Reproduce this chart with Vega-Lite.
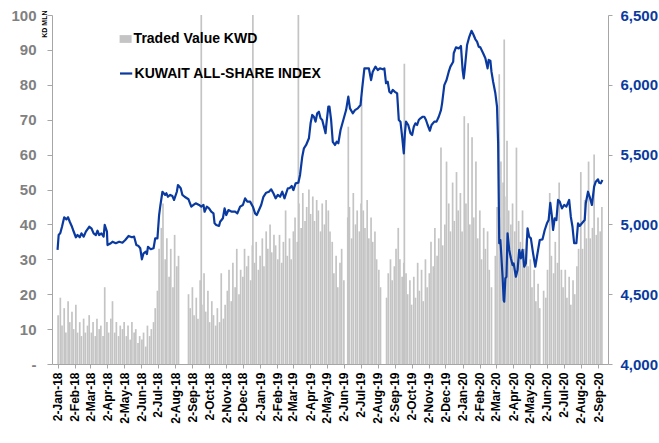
{
 "$schema": "https://vega.github.io/schema/vega-lite/v6.json",
 "width": 556,
 "height": 349,
 "autosize": {"type": "none"},
 "padding": {"left": 52, "top": 15, "right": 51, "bottom": 79},
 "background": "white",
 "config": {"view": {"stroke": null}, "font": "Liberation Sans"},
 "datasets": {
  "bars": [
   {"d":"2018-01-03","v":14},{"d":"2018-01-07","v":19},{"d":"2018-01-10","v":11},{"d":"2018-01-14","v":16},{"d":"2018-01-17","v":9},{"d":"2018-01-21","v":18},{"d":"2018-01-24","v":12},{"d":"2018-01-28","v":15},{"d":"2018-01-31","v":10},
   {"d":"2018-02-04","v":17},{"d":"2018-02-07","v":9},{"d":"2018-02-11","v":12},{"d":"2018-02-14","v":8},{"d":"2018-02-18","v":13},{"d":"2018-02-21","v":9},{"d":"2018-02-25","v":11},{"d":"2018-02-28","v":14},
   {"d":"2018-03-04","v":9},{"d":"2018-03-07","v":12},{"d":"2018-03-11","v":8},{"d":"2018-03-14","v":13},{"d":"2018-03-18","v":10},{"d":"2018-03-21","v":11},{"d":"2018-03-25","v":8},{"d":"2018-03-28","v":22},
   {"d":"2018-04-01","v":12},{"d":"2018-04-04","v":9},{"d":"2018-04-08","v":13},{"d":"2018-04-11","v":18},{"d":"2018-04-15","v":9},{"d":"2018-04-18","v":12},{"d":"2018-04-22","v":8},{"d":"2018-04-25","v":11},{"d":"2018-04-29","v":10},
   {"d":"2018-05-02","v":12},{"d":"2018-05-06","v":8},{"d":"2018-05-09","v":11},{"d":"2018-05-13","v":7},{"d":"2018-05-16","v":12},{"d":"2018-05-20","v":9},{"d":"2018-05-23","v":10},{"d":"2018-05-27","v":6},{"d":"2018-05-30","v":8},
   {"d":"2018-06-03","v":7},{"d":"2018-06-06","v":9},{"d":"2018-06-10","v":5},{"d":"2018-06-13","v":11},{"d":"2018-06-17","v":8},{"d":"2018-06-20","v":10},{"d":"2018-06-24","v":12},{"d":"2018-06-27","v":16},
   {"d":"2018-07-01","v":21},{"d":"2018-07-04","v":33},{"d":"2018-07-08","v":39},{"d":"2018-07-11","v":46},{"d":"2018-07-15","v":30},{"d":"2018-07-18","v":36},{"d":"2018-07-22","v":25},{"d":"2018-07-25","v":33},{"d":"2018-07-29","v":22},
   {"d":"2018-08-01","v":37},{"d":"2018-08-05","v":28},{"d":"2018-08-08","v":31},{"d":"2018-08-26","v":20},{"d":"2018-08-29","v":16},
   {"d":"2018-09-02","v":22},{"d":"2018-09-05","v":14},{"d":"2018-09-09","v":19},{"d":"2018-09-12","v":13},{"d":"2018-09-16","v":24},{"d":"2018-09-18","v":105},{"d":"2018-09-19","v":17},{"d":"2018-09-23","v":26},{"d":"2018-09-26","v":15},{"d":"2018-09-30","v":21},
   {"d":"2018-10-03","v":12},{"d":"2018-10-07","v":18},{"d":"2018-10-10","v":14},{"d":"2018-10-14","v":11},{"d":"2018-10-17","v":16},{"d":"2018-10-21","v":12},{"d":"2018-10-24","v":26},{"d":"2018-10-28","v":13},{"d":"2018-10-31","v":17},
   {"d":"2018-11-04","v":21},{"d":"2018-11-07","v":27},{"d":"2018-11-11","v":18},{"d":"2018-11-14","v":29},{"d":"2018-11-18","v":22},{"d":"2018-11-21","v":33},{"d":"2018-11-25","v":20},{"d":"2018-11-28","v":27},
   {"d":"2018-12-02","v":25},{"d":"2018-12-05","v":33},{"d":"2018-12-09","v":28},{"d":"2018-12-12","v":31},{"d":"2018-12-16","v":24},{"d":"2018-12-19","v":34},{"d":"2018-12-20","v":108},{"d":"2018-12-23","v":29},{"d":"2018-12-26","v":35},{"d":"2018-12-30","v":27},
   {"d":"2019-01-02","v":31},{"d":"2019-01-06","v":36},{"d":"2019-01-09","v":28},{"d":"2019-01-13","v":38},{"d":"2019-01-16","v":33},{"d":"2019-01-20","v":40},{"d":"2019-01-23","v":32},{"d":"2019-01-27","v":37},{"d":"2019-01-30","v":34},
   {"d":"2019-02-03","v":30},{"d":"2019-02-06","v":37},{"d":"2019-02-10","v":29},{"d":"2019-02-13","v":35},{"d":"2019-02-17","v":44},{"d":"2019-02-20","v":31},{"d":"2019-02-24","v":36},{"d":"2019-02-27","v":30},
   {"d":"2019-03-03","v":38},{"d":"2019-03-06","v":42},{"d":"2019-03-10","v":35},{"d":"2019-03-12","v":110},{"d":"2019-03-13","v":46},{"d":"2019-03-17","v":39},{"d":"2019-03-20","v":49},{"d":"2019-03-24","v":41},{"d":"2019-03-27","v":45},{"d":"2019-03-31","v":50},
   {"d":"2019-04-03","v":43},{"d":"2019-04-07","v":48},{"d":"2019-04-10","v":41},{"d":"2019-04-14","v":47},{"d":"2019-04-17","v":44},{"d":"2019-04-21","v":38},{"d":"2019-04-24","v":46},{"d":"2019-04-28","v":40},
   {"d":"2019-05-01","v":47},{"d":"2019-05-05","v":44},{"d":"2019-05-08","v":38},{"d":"2019-05-12","v":35},{"d":"2019-05-15","v":26},{"d":"2019-05-19","v":31},{"d":"2019-05-22","v":22},{"d":"2019-05-26","v":29},{"d":"2019-05-29","v":33},
   {"d":"2019-06-02","v":24},{"d":"2019-06-09","v":42},{"d":"2019-06-10","v":68},{"d":"2019-06-12","v":45},{"d":"2019-06-16","v":36},{"d":"2019-06-19","v":49},{"d":"2019-06-23","v":40},{"d":"2019-06-26","v":44},{"d":"2019-06-30","v":38},
   {"d":"2019-07-03","v":46},{"d":"2019-07-04","v":76},{"d":"2019-07-07","v":44},{"d":"2019-07-10","v":39},{"d":"2019-07-14","v":47},{"d":"2019-07-17","v":36},{"d":"2019-07-21","v":42},{"d":"2019-07-24","v":35},{"d":"2019-07-28","v":38},{"d":"2019-07-31","v":30},
   {"d":"2019-08-04","v":27},{"d":"2019-08-07","v":22},{"d":"2019-08-18","v":19},{"d":"2019-08-21","v":26},{"d":"2019-08-25","v":30},{"d":"2019-08-28","v":24},
   {"d":"2019-09-01","v":28},{"d":"2019-09-04","v":33},{"d":"2019-09-08","v":39},{"d":"2019-09-11","v":30},{"d":"2019-09-15","v":25},{"d":"2019-09-18","v":29},{"d":"2019-09-19","v":86},{"d":"2019-09-22","v":26},{"d":"2019-09-25","v":20},{"d":"2019-09-29","v":24},
   {"d":"2019-10-02","v":17},{"d":"2019-10-06","v":25},{"d":"2019-10-09","v":19},{"d":"2019-10-13","v":29},{"d":"2019-10-16","v":21},{"d":"2019-10-20","v":27},{"d":"2019-10-23","v":18},{"d":"2019-10-27","v":30},{"d":"2019-10-30","v":22},
   {"d":"2019-11-03","v":26},{"d":"2019-11-06","v":35},{"d":"2019-11-10","v":28},{"d":"2019-11-13","v":39},{"d":"2019-11-17","v":31},{"d":"2019-11-20","v":36},{"d":"2019-11-24","v":62},{"d":"2019-11-27","v":34},
   {"d":"2019-12-01","v":40},{"d":"2019-12-04","v":58},{"d":"2019-12-08","v":46},{"d":"2019-12-11","v":38},{"d":"2019-12-15","v":52},{"d":"2019-12-18","v":41},{"d":"2019-12-22","v":55},{"d":"2019-12-25","v":44},{"d":"2019-12-29","v":49},
   {"d":"2020-01-01","v":38},{"d":"2020-01-05","v":71},{"d":"2020-01-08","v":46},{"d":"2020-01-12","v":69},{"d":"2020-01-15","v":40},{"d":"2020-01-19","v":65},{"d":"2020-01-22","v":42},{"d":"2020-01-26","v":58},{"d":"2020-01-29","v":36},
   {"d":"2020-02-02","v":44},{"d":"2020-02-05","v":30},{"d":"2020-02-09","v":39},{"d":"2020-02-12","v":33},{"d":"2020-02-16","v":38},{"d":"2020-02-19","v":27},{"d":"2020-02-23","v":22},
   {"d":"2020-03-01","v":31},{"d":"2020-03-04","v":45},{"d":"2020-03-08","v":83},{"d":"2020-03-11","v":58},{"d":"2020-03-15","v":52},{"d":"2020-03-17","v":93},{"d":"2020-03-18","v":48},{"d":"2020-03-22","v":64},{"d":"2020-03-25","v":44},{"d":"2020-03-29","v":40},
   {"d":"2020-04-01","v":46},{"d":"2020-04-05","v":38},{"d":"2020-04-08","v":62},{"d":"2020-04-12","v":41},{"d":"2020-04-15","v":35},{"d":"2020-04-19","v":44},{"d":"2020-04-22","v":33},{"d":"2020-04-26","v":36},{"d":"2020-04-29","v":28},
   {"d":"2020-05-03","v":30},{"d":"2020-05-06","v":22},{"d":"2020-05-10","v":27},{"d":"2020-05-13","v":18},{"d":"2020-05-17","v":23},{"d":"2020-05-20","v":16},{"d":"2020-05-27","v":21},{"d":"2020-05-31","v":19},
   {"d":"2020-06-03","v":27},{"d":"2020-06-07","v":49},{"d":"2020-06-10","v":31},{"d":"2020-06-14","v":26},{"d":"2020-06-17","v":35},{"d":"2020-06-21","v":29},{"d":"2020-06-24","v":52},{"d":"2020-06-28","v":27},
   {"d":"2020-07-01","v":22},{"d":"2020-07-05","v":27},{"d":"2020-07-08","v":19},{"d":"2020-07-12","v":25},{"d":"2020-07-15","v":17},{"d":"2020-07-19","v":24},{"d":"2020-07-22","v":20},{"d":"2020-07-26","v":28},{"d":"2020-07-29","v":33},
   {"d":"2020-08-02","v":55},{"d":"2020-08-05","v":33},{"d":"2020-08-09","v":47},{"d":"2020-08-12","v":36},{"d":"2020-08-16","v":58},{"d":"2020-08-19","v":36},{"d":"2020-08-23","v":39},{"d":"2020-08-26","v":60},{"d":"2020-08-30","v":37},
   {"d":"2020-09-02","v":42},{"d":"2020-09-06","v":38},{"d":"2020-09-09","v":45}
  ],
  "idx": [
   {"d":"2018-01-02","i":4817},{"d":"2018-01-04","i":4924},{"d":"2018-01-07","i":4938},{"d":"2018-01-10","i":4983},{"d":"2018-01-14","i":5051},{"d":"2018-01-18","i":5036},{"d":"2018-01-21","i":5051},{"d":"2018-01-24","i":5019},{"d":"2018-01-28","i":4983},{"d":"2018-01-30","i":4960},
   {"d":"2018-02-04","i":4908},{"d":"2018-02-07","i":4924},{"d":"2018-02-11","i":4908},{"d":"2018-02-14","i":4936},{"d":"2018-02-18","i":4912},{"d":"2018-02-22","i":4948},{"d":"2018-02-28","i":4983},
   {"d":"2018-03-04","i":4972},{"d":"2018-03-08","i":4936},{"d":"2018-03-12","i":4924},{"d":"2018-03-15","i":4955},{"d":"2018-03-18","i":4924},{"d":"2018-03-22","i":4936},{"d":"2018-03-26","i":4912},{"d":"2018-03-28","i":4996},
   {"d":"2018-04-01","i":4948},{"d":"2018-04-02","i":4852},{"d":"2018-04-08","i":4865},{"d":"2018-04-11","i":4876},{"d":"2018-04-17","i":4865},{"d":"2018-04-23","i":4876},{"d":"2018-04-29","i":4869},
   {"d":"2018-05-04","i":4888},{"d":"2018-05-10","i":4917},{"d":"2018-05-16","i":4908},{"d":"2018-05-20","i":4912},{"d":"2018-05-24","i":4852},{"d":"2018-05-28","i":4845},{"d":"2018-05-31","i":4829},
   {"d":"2018-06-03","i":4750},{"d":"2018-06-06","i":4793},{"d":"2018-06-10","i":4804},{"d":"2018-06-12","i":4788},{"d":"2018-06-14","i":4840},{"d":"2018-06-19","i":4822},{"d":"2018-06-24","i":4829},{"d":"2018-06-27","i":4900},
   {"d":"2018-07-01","i":4900},{"d":"2018-07-04","i":5067},{"d":"2018-07-06","i":5127},{"d":"2018-07-10","i":5234},{"d":"2018-07-15","i":5211},{"d":"2018-07-17","i":5223},{"d":"2018-07-20","i":5198},{"d":"2018-07-24","i":5211},{"d":"2018-07-28","i":5203},{"d":"2018-07-31","i":5175},
   {"d":"2018-08-05","i":5234},{"d":"2018-08-07","i":5282},{"d":"2018-08-12","i":5259},{"d":"2018-08-15","i":5211},{"d":"2018-08-19","i":5198},{"d":"2018-08-26","i":5180},{"d":"2018-08-31","i":5127},
   {"d":"2018-09-04","i":5139},{"d":"2018-09-08","i":5151},{"d":"2018-09-14","i":5139},{"d":"2018-09-18","i":5127},{"d":"2018-09-22","i":5139},{"d":"2018-09-24","i":5091},{"d":"2018-09-28","i":5127},
   {"d":"2018-10-02","i":5115},{"d":"2018-10-06","i":5091},{"d":"2018-10-10","i":5079},{"d":"2018-10-12","i":5008},{"d":"2018-10-15","i":4996},{"d":"2018-10-20","i":4989},{"d":"2018-10-22","i":5019},{"d":"2018-10-27","i":5044},{"d":"2018-10-30","i":5115},
   {"d":"2018-11-02","i":5067},{"d":"2018-11-06","i":5103},{"d":"2018-11-12","i":5091},{"d":"2018-11-18","i":5091},{"d":"2018-11-22","i":5079},{"d":"2018-11-27","i":5127},
   {"d":"2018-12-02","i":5139},{"d":"2018-12-06","i":5187},{"d":"2018-12-10","i":5163},{"d":"2018-12-15","i":5163},{"d":"2018-12-20","i":5127},{"d":"2018-12-24","i":5079},{"d":"2018-12-27","i":5067},{"d":"2018-12-31","i":5103},
   {"d":"2019-01-04","i":5139},{"d":"2019-01-08","i":5198},{"d":"2019-01-13","i":5227},{"d":"2019-01-18","i":5234},{"d":"2019-01-22","i":5251},{"d":"2019-01-26","i":5223},{"d":"2019-01-30","i":5187},
   {"d":"2019-02-03","i":5211},{"d":"2019-02-07","i":5198},{"d":"2019-02-11","i":5234},{"d":"2019-02-15","i":5187},{"d":"2019-02-18","i":5223},{"d":"2019-02-21","i":5259},{"d":"2019-02-24","i":5259},{"d":"2019-02-28","i":5275},
   {"d":"2019-03-03","i":5246},{"d":"2019-03-07","i":5294},{"d":"2019-03-12","i":5299},{"d":"2019-03-15","i":5354},{"d":"2019-03-19","i":5485},{"d":"2019-03-22","i":5545},{"d":"2019-03-26","i":5569},{"d":"2019-03-31","i":5617},
   {"d":"2019-04-03","i":5724},{"d":"2019-04-06","i":5784},{"d":"2019-04-09","i":5771},{"d":"2019-04-12","i":5736},{"d":"2019-04-15","i":5796},{"d":"2019-04-18","i":5807},{"d":"2019-04-21","i":5760},{"d":"2019-04-24","i":5748},{"d":"2019-04-30","i":5653},
   {"d":"2019-05-01","i":5700},{"d":"2019-05-05","i":5843},{"d":"2019-05-07","i":5843},{"d":"2019-05-10","i":5748},{"d":"2019-05-13","i":5592},{"d":"2019-05-17","i":5569},{"d":"2019-05-20","i":5592},{"d":"2019-05-23","i":5581},{"d":"2019-05-27","i":5676},
   {"d":"2019-06-01","i":5748},{"d":"2019-06-06","i":5819},{"d":"2019-06-10","i":5915},{"d":"2019-06-13","i":5831},{"d":"2019-06-18","i":5796},{"d":"2019-06-22","i":5819},{"d":"2019-06-27","i":5831},
   {"d":"2019-07-02","i":5855},{"d":"2019-07-05","i":5975},{"d":"2019-07-09","i":6118},{"d":"2019-07-13","i":6118},{"d":"2019-07-17","i":6118},{"d":"2019-07-21","i":6034},{"d":"2019-07-24","i":6094},{"d":"2019-07-29","i":6130},
   {"d":"2019-08-02","i":6106},{"d":"2019-08-06","i":6118},{"d":"2019-08-11","i":6111},{"d":"2019-08-14","i":6118},{"d":"2019-08-17","i":6011},{"d":"2019-08-20","i":6022},{"d":"2019-08-23","i":5950},{"d":"2019-08-26","i":5939},{"d":"2019-08-29","i":5963},
   {"d":"2019-09-02","i":5950},{"d":"2019-09-06","i":5939},{"d":"2019-09-09","i":5748},{"d":"2019-09-12","i":5736},{"d":"2019-09-15","i":5628},{"d":"2019-09-18","i":5509},{"d":"2019-09-20","i":5653},{"d":"2019-09-22","i":5736},{"d":"2019-09-26","i":5712},{"d":"2019-09-30","i":5653},
   {"d":"2019-10-03","i":5640},{"d":"2019-10-06","i":5700},{"d":"2019-10-09","i":5724},{"d":"2019-10-12","i":5712},{"d":"2019-10-15","i":5748},{"d":"2019-10-18","i":5760},{"d":"2019-10-22","i":5771},{"d":"2019-10-25","i":5771},{"d":"2019-10-28","i":5748},{"d":"2019-10-31","i":5712},
   {"d":"2019-11-04","i":5671},{"d":"2019-11-07","i":5712},{"d":"2019-11-12","i":5736},{"d":"2019-11-16","i":5736},{"d":"2019-11-20","i":5771},{"d":"2019-11-24","i":5819},{"d":"2019-11-26","i":5867},{"d":"2019-11-30","i":5998},
   {"d":"2019-12-04","i":6034},{"d":"2019-12-08","i":6094},{"d":"2019-12-11","i":6130},{"d":"2019-12-16","i":6165},{"d":"2019-12-17","i":6226},{"d":"2019-12-21","i":6268},{"d":"2019-12-26","i":6261},{"d":"2019-12-29","i":6273},{"d":"2019-12-30","i":6278},
   {"d":"2020-01-02","i":6106},{"d":"2020-01-04","i":6046},{"d":"2020-01-06","i":6118},{"d":"2020-01-10","i":6285},{"d":"2020-01-14","i":6344},{"d":"2020-01-18","i":6387},{"d":"2020-01-21","i":6364},{"d":"2020-01-25","i":6326},{"d":"2020-01-28","i":6309},{"d":"2020-01-31","i":6273},
   {"d":"2020-02-03","i":6268},{"d":"2020-02-08","i":6226},{"d":"2020-02-12","i":6190},{"d":"2020-02-16","i":6118},{"d":"2020-02-18","i":6178},{"d":"2020-02-21","i":6173},{"d":"2020-02-23","i":6094},{"d":"2020-02-26","i":6022},
   {"d":"2020-03-01","i":5939},{"d":"2020-03-04","i":5843},{"d":"2020-03-06","i":5581},{"d":"2020-03-07","i":5223},{"d":"2020-03-08","i":4865},{"d":"2020-03-10","i":4888},{"d":"2020-03-11","i":4829},{"d":"2020-03-14","i":4625},{"d":"2020-03-16","i":4458},{"d":"2020-03-17","i":4446},{"d":"2020-03-19","i":4614},{"d":"2020-03-21","i":4625},{"d":"2020-03-23","i":4936},{"d":"2020-03-26","i":4817},{"d":"2020-03-29","i":4757},
   {"d":"2020-04-01","i":4709},{"d":"2020-04-03","i":4721},{"d":"2020-04-07","i":4625},{"d":"2020-04-10","i":4673},{"d":"2020-04-13","i":4817},{"d":"2020-04-16","i":4757},{"d":"2020-04-19","i":4817},{"d":"2020-04-22","i":4697},{"d":"2020-04-25","i":4721},{"d":"2020-04-28","i":4972},
   {"d":"2020-05-01","i":4912},{"d":"2020-05-04","i":4900},{"d":"2020-05-08","i":4793},{"d":"2020-05-12","i":4697},{"d":"2020-05-16","i":4793},{"d":"2020-05-20","i":4888},{"d":"2020-05-25","i":4893},{"d":"2020-05-29","i":4960},
   {"d":"2020-06-02","i":5008},{"d":"2020-06-05","i":5031},{"d":"2020-06-08","i":5155},{"d":"2020-06-11","i":5055},{"d":"2020-06-13","i":4960},{"d":"2020-06-16","i":5044},{"d":"2020-06-19","i":5031},{"d":"2020-06-22","i":5175},{"d":"2020-06-25","i":5163},{"d":"2020-06-29","i":5115},
   {"d":"2020-07-03","i":5139},{"d":"2020-07-07","i":5127},{"d":"2020-07-12","i":5175},{"d":"2020-07-15","i":5055},{"d":"2020-07-18","i":4983},{"d":"2020-07-21","i":4865},{"d":"2020-07-25","i":4865},{"d":"2020-07-28","i":5008},{"d":"2020-07-31","i":4989},
   {"d":"2020-08-04","i":5008},{"d":"2020-08-09","i":5031},{"d":"2020-08-11","i":5151},{"d":"2020-08-15","i":5234},{"d":"2020-08-18","i":5198},{"d":"2020-08-22","i":5139},{"d":"2020-08-26","i":5270},{"d":"2020-08-29","i":5306},
   {"d":"2020-09-02","i":5323},{"d":"2020-09-04","i":5299},{"d":"2020-09-07","i":5294},{"d":"2020-09-10","i":5318}
  ]
 },
 "encoding": {
  "x": {
   "field": "d",
   "type": "temporal",
   "scale": {"type": "utc", "domain": [{"year": 2018, "month": 1, "date": 1, "utc": true}, {"year": 2020, "month": 9, "date": 11, "utc": true}]},
   "axis": {
    "values": [
     {"year":2018,"month":1,"date":2,"utc":true},{"year":2018,"month":2,"date":2,"utc":true},{"year":2018,"month":3,"date":2,"utc":true},{"year":2018,"month":4,"date":2,"utc":true},{"year":2018,"month":5,"date":2,"utc":true},{"year":2018,"month":6,"date":2,"utc":true},{"year":2018,"month":7,"date":2,"utc":true},{"year":2018,"month":8,"date":2,"utc":true},{"year":2018,"month":9,"date":2,"utc":true},{"year":2018,"month":10,"date":2,"utc":true},{"year":2018,"month":11,"date":2,"utc":true},{"year":2018,"month":12,"date":2,"utc":true},
     {"year":2019,"month":1,"date":2,"utc":true},{"year":2019,"month":2,"date":2,"utc":true},{"year":2019,"month":3,"date":2,"utc":true},{"year":2019,"month":4,"date":2,"utc":true},{"year":2019,"month":5,"date":2,"utc":true},{"year":2019,"month":6,"date":2,"utc":true},{"year":2019,"month":7,"date":2,"utc":true},{"year":2019,"month":8,"date":2,"utc":true},{"year":2019,"month":9,"date":2,"utc":true},{"year":2019,"month":10,"date":2,"utc":true},{"year":2019,"month":11,"date":2,"utc":true},{"year":2019,"month":12,"date":2,"utc":true},
     {"year":2020,"month":1,"date":2,"utc":true},{"year":2020,"month":2,"date":2,"utc":true},{"year":2020,"month":3,"date":2,"utc":true},{"year":2020,"month":4,"date":2,"utc":true},{"year":2020,"month":5,"date":2,"utc":true},{"year":2020,"month":6,"date":2,"utc":true},{"year":2020,"month":7,"date":2,"utc":true},{"year":2020,"month":8,"date":2,"utc":true},{"year":2020,"month":9,"date":2,"utc":true}
    ],
    "format": "%-d-%b-%y",
    "labelAngle": -90,
    "labelAlign": "right",
    "labelBaseline": "middle",
    "labelFont": "Liberation Sans",
    "labelFontWeight": "bold",
    "labelFontSize": 12,
    "labelColor": "#000000",
    "labelPadding": 4,
    "labelOverlap": false,
    "labelFlush": false,
    "labelBound": false,
    "tickSize": 4,
    "tickColor": "#A6A6A6",
    "domainColor": "#A6A6A6",
    "grid": false,
    "title": null
   }
  }
 },
 "layer": [
  {
   "data": {"name": "bars"},
   "mark": {"type": "bar", "width": 1.7, "clip": true},
   "encoding": {
    "y": {
     "field": "v",
     "type": "quantitative",
     "scale": {"domain": [0, 100], "nice": false, "zero": true},
     "axis": {
      "orient": "left",
      "values": [0, 10, 20, 30, 40, 50, 60, 70, 80, 90, 100],
      "labelExpr": "datum.value == 0 ? '-\u00a0\u00a0' : datum.label",
      "labelFont": "Liberation Sans",
      "labelFontSize": 15,
      "labelFontWeight": "bold",
      "labelColor": "#808080",
      "labelPadding": 11,
      "labelFlush": false,
      "labelBound": false,
      "tickSize": 5,
      "tickColor": "#A6A6A6",
      "domainColor": "#A6A6A6",
      "grid": false,
      "title": "KD MLN",
      "titleFont": "Liberation Sans",
      "titleFontSize": 7,
      "titleFontWeight": "bold",
      "titleColor": "#000000",
      "titleAngle": -90,
      "titleAlign": "right",
      "titleBaseline": "middle",
      "titleX": -8,
      "titleY": -5
     }
    },
    "fill": {
     "datum": "Traded Value KWD",
     "scale": {"range": ["#C4C4C4"]},
     "legend": {
      "orient": "none",
      "legendX": 66.6,
      "legendY": 17,
      "title": null,
      "padding": 0,
      "symbolType": "M-1,-0.65H1V0.65H-1Z",
      "symbolSize": 144,
      "symbolStrokeWidth": 0,
      "labelFont": "Liberation Sans",
      "labelFontSize": 14,
      "labelFontWeight": "bold",
      "labelColor": "#000000",
      "labelOffset": 1,
      "labelLimit": 400,
      "encode": {"symbols": {"update": {"fill": {"value": "#A6A6A6"}}}}
     }
    }
   }
  },
  {
   "data": {"name": "idx"},
   "mark": {"type": "line", "strokeWidth": 2.2, "clip": true, "strokeJoin": "round"},
   "encoding": {
    "y": {
     "field": "i",
     "type": "quantitative",
     "scale": {"domain": [4000, 6500], "nice": false, "zero": false},
     "axis": {
      "orient": "right",
      "values": [4000, 4500, 5000, 5500, 6000, 6500],
      "format": ",.0f",
      "labelFont": "Liberation Sans",
      "labelFontSize": 15,
      "labelFontWeight": "bold",
      "labelColor": "#0A3A9E",
      "labelPadding": 8,
      "labelFlush": false,
      "labelBound": false,
      "tickSize": 4,
      "tickColor": "#A6A6A6",
      "domainColor": "#A6A6A6",
      "grid": false,
      "title": null
     }
    },
    "stroke": {
     "datum": "KUWAIT ALL-SHARE INDEX",
     "scale": {"range": ["#0A3AA0"]},
     "legend": {
      "orient": "none",
      "legendX": 66.6,
      "legendY": 51,
      "title": null,
      "padding": 0,
      "symbolType": "stroke",
      "symbolSize": 150,
      "symbolStrokeWidth": 2.2,
      "labelFont": "Liberation Sans",
      "labelFontSize": 14,
      "labelFontWeight": "bold",
      "labelColor": "#000000",
      "labelOffset": 1,
      "labelLimit": 400
     }
    }
   }
  }
 ],
 "resolve": {"scale": {"y": "independent"}}
}
